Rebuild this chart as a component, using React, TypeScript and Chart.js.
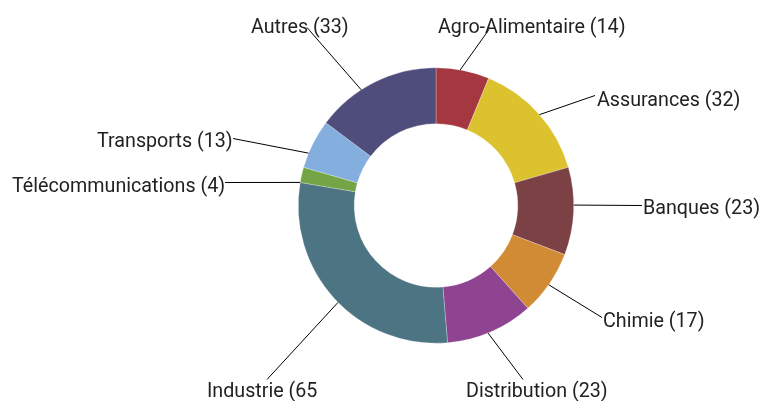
import React, { useEffect, useRef } from "react";
import { Chart, registerables } from "chart.js";

Chart.register(...registerables);

const categories = [
  "Agro-Alimentaire",
  "Assurances",
  "Banques",
  "Chimie",
  "Distribution",
  "Industrie",
  "Télécommunications",
  "Transports",
  "Autres",
];
const values = [14, 32, 23, 17, 23, 65, 4, 13, 33];
const labelTexts = [
  "Agro-Alimentaire (14)",
  "Assurances (32)",
  "Banques (23)",
  "Chimie (17)",
  "Distribution (23)",
  "Industrie (65",
  "Télécommunications (4)",
  "Transports (13)",
  "Autres (33)",
];
const colors = [
  "#A4373F",
  "#DDC22F",
  "#7B4145",
  "#D28B35",
  "#8F4491",
  "#4C7482",
  "#73A446",
  "#84AEDD",
  "#4F4D7C",
];

// label layout: text left x / baseline y, leader end point (offsets from donut centre),
// and where the leader touches the slice (fraction of the slice's angle span)
const labelLayout = [
  { tx: 2, ty: -173, lx: 53, ly: -176, frac: 0.45 },
  { tx: 161, ty: -100, lx: 159, ly: -110, frac: 0.51 },
  { tx: 207, ty: 8, lx: 206, ly: 0, frac: 0.43 },
  { tx: 167, ty: 121, lx: 166, ly: 112, frac: 0.52 },
  { tx: 30, ty: 191, lx: 87, ly: 174, frac: 0.53 },
  { tx: -229, ty: 191, lx: -169, ly: 174, frac: 0.48 },
  { tx: -424, ty: -14, lx: -211, ly: -23, frac: 0.0 },
  { tx: -339, ty: -59, lx: -203, ly: -67, frac: 0.3 },
  { tx: -185, ty: -173, lx: -129, ly: -178, frac: 0.38 },
];

const leaderPlugin = {
  id: "leaders",
  afterDraw(chart: any) {
    const ctx = chart.ctx;
    const meta = chart.getDatasetMeta(0);
    ctx.save();
    meta.data.forEach((arc: any, i: number) => {
      const p = arc.getProps(["x", "y", "startAngle", "endAngle", "outerRadius"], true);
      const L = labelLayout[i];
      const a = p.startAngle + L.frac * (p.endAngle - p.startAngle);
      const sx = p.x + Math.cos(a) * p.outerRadius;
      const sy = p.y + Math.sin(a) * p.outerRadius;
      ctx.beginPath();
      ctx.strokeStyle = "#000";
      ctx.lineWidth = 1;
      ctx.moveTo(sx, sy);
      ctx.lineTo(p.x + L.lx, p.y + L.ly);
      ctx.stroke();
      ctx.font = "19.7px Roboto";
      ctx.fillStyle = "#222";
      ctx.textAlign = "left";
      ctx.textBaseline = "alphabetic";
      ctx.fillText(labelTexts[i], p.x + L.tx, p.y + L.ty);
    });
    ctx.restore();
  },
};

export default function App() {
  const ref = useRef<HTMLCanvasElement>(null);
  useEffect(() => {
    const chart = new Chart(ref.current!, {
      type: "doughnut",
      data: {
        labels: categories,
        datasets: [
          {
            data: values,
            backgroundColor: colors,
            borderColor: "rgba(255,255,255,0.5)",
            borderWidth: 0.5,
          },
        ],
      },
      options: {
        responsive: false,
        animation: false,
        cutout: "59.4%",
        layout: { padding: { left: 298, right: 191, top: 67, bottom: 57 } },
        plugins: { legend: { display: false }, tooltip: { enabled: false } },
      },
      plugins: [leaderPlugin],
    });
    return () => chart.destroy();
  }, []);
  return (
    <div style={{ position: "fixed", left: 0, top: 0, width: 765, height: 401, background: "#fff" }}>
      <canvas ref={ref} width={765} height={401} style={{ display: "block" }} />
    </div>
  );
}
